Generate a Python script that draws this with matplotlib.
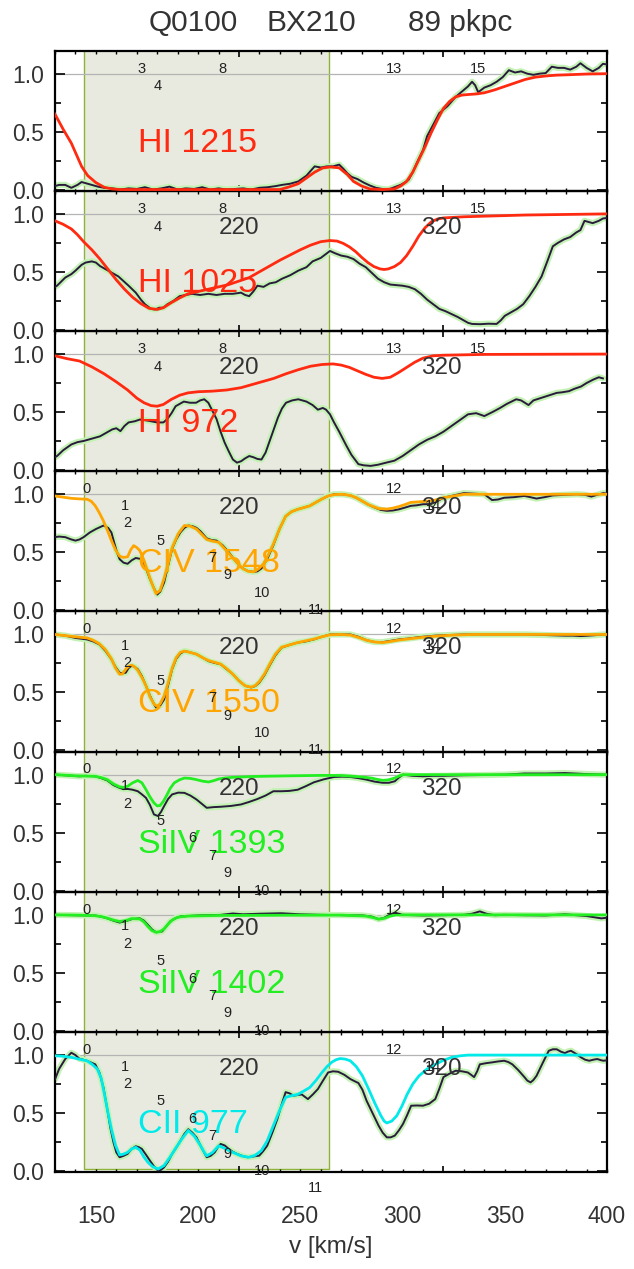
import matplotlib
matplotlib.use('Agg')
import matplotlib.pyplot as plt
from matplotlib.ticker import MultipleLocator, FixedLocator
import numpy as np

plt.rcParams['font.family'] = ['Liberation Sans', 'DejaVu Sans']

# ---------------- data (velocity km/s, normalized flux) ----------------
hi1215_obs = [(130,.03),(132,.04),(135,.04),(138,.015),(141,.04),(143,.065),(146,.05),(148,.04),(151,.025),(154,.015),(158,.01),(162,0),(166,.01),(170,.005),(174,.02),(178,0),(182,.01),(186,.025),(190,0),(194,.01),(198,.005),(202,.02),(206,0),(210,.01),(214,0),(218,.005),(222,.01),(226,0),(230,.015),(234,.02),(238,.03),(241,.04),(245,.05),(249,.07),(253,.12),(257,.2),(260,.19),(263,.2),(266,.2),(269,.215),(271,.18),(273,.14),(275,.11),(278,.09),(281,.06),(284,.035),(287,.015),(290,.005),(293,0),(296,.02),(299,.04),(301,.06),(303,.085),(305,.15),(307,.23),(310,.34),(312,.46),(315,.56),(318,.66),(320,.69),(322,.72),(324,.76),(326,.8),(328,.83),(330,.86),(332,.89),(334,.93),(335.5,.9),(337,.84),(338.5,.86),(340,.88),(343,.9),(346,.93),(349,.97),(352,1.03),(355,1.01),(358,1.02),(361,1.0),(364,.99),(367,1.0),(370,1.005),(373,1.06),(376,1.05),(379,1.05),(382,1.035),(385,1.06),(387,1.09),(390,1.05),(393,1.02),(396,1.05),(398,1.085),(400,1.08)]
hi1215_mod = [(130,.65),(134,.52),(138,.40),(141,.28),(143,.2),(146,.12),(150,.06),(154,.02),(158,.005),(162,0),(240,0),(244,.02),(249,.05),(253,.1),(257,.15),(261,.187),(265,.195),(269,.187),(273,.13),(276,.07),(280,.03),(284,.005),(290,0),(296,.005),(299,.03),(302,.07),(305,.15),(308,.26),(311,.37),(314,.49),(317,.6),(320,.70),(323,.76),(326,.80),(329,.815),(332,.82),(336,.825),(340,.835),(345,.86),(350,.89),(355,.92),(360,.95),(365,.97),(370,.98),(375,.987),(380,.99),(390,.997),(400,1.0)]

hi1025_obs = [(130,.37),(131,.38),(135,.45),(138,.48),(140,.51),(143,.56),(145,.58),(148,.59),(150,.58),(152,.55),(155,.52),(158,.49),(161,.46),(163.5,.42),(166,.38),(169.5,.32),(172,.26),(174,.22),(177,.18),(179,.175),(181,.19),(183,.19),(185,.22),(188,.25),(191,.29),(194,.30),(197,.31),(201,.30),(205,.31),(209,.30),(213,.31),(217,.31),(221,.32),(223,.30),(225,.29),(227,.33),(229,.38),(232,.37),(235,.40),(238,.41),(241,.44),(245,.47),(249,.51),(253,.54),(256,.59),(260,.62),(264.5,.68),(267,.66),(270,.64),(273,.63),(276,.61),(279,.57),(282,.54),(285,.49),(288,.44),(291,.41),(294,.39),(297,.385),(300,.38),(303,.37),(306,.35),(309,.31),(312,.26),(315,.22),(318,.18),(321,.16),(324,.135),(327,.11),(330,.08),(332,.06),(334,.05),(338,.048),(342,.052),(346,.05),(348,.08),(350,.12),(353,.15),(356,.18),(359,.22),(362,.29),(365,.37),(368,.46),(371,.6),(373.5,.72),(376,.75),(379,.78),(382,.8),(385,.84),(387,.86),(389,.94),(391,.93),(393,.92),(396,.94),(398,.96),(400,.965)]
hi1025_mod = [(130,.94),(134,.91),(138,.87),(141,.82),(144,.76),(148,.69),(152,.61),(156,.52),(160,.43),(164,.35),(168,.28),(172,.225),(176,.185),(180,.175),(183,.19),(187,.235),(191,.275),(195,.31),(200,.33),(205,.35),(210,.37),(215,.39),(220,.42),(225,.45),(230,.5),(235,.55),(240,.6),(245,.645),(250,.69),(255,.73),(260,.76),(264.5,.77),(268,.765),(271,.745),(274,.715),(277,.675),(280,.625),(283,.58),(286,.545),(289,.525),(291,.52),(293,.525),(296,.545),(299,.58),(302,.64),(305,.72),(308,.81),(311,.88),(314,.93),(317,.955),(320,.965),(330,.975),(340,.98),(360,.99),(380,.995),(400,1.0)]

hi972_obs = [(130,.11),(131,.12),(134,.17),(138,.22),(141,.24),(144,.25),(148,.27),(152,.29),(155,.32),(158,.35),(160,.36),(162,.335),(164,.38),(166,.41),(169,.42),(171.5,.435),(174,.43),(177,.42),(180,.41),(183,.41),(185,.44),(187,.49),(189,.55),(191,.57),(193,.59),(196,.58),(199,.58),(201,.6),(203,.61),(205,.58),(207,.51),(209,.44),(211,.33),(213,.235),(215,.16),(217,.09),(219,.063),(221,.075),(223,.1),(225,.12),(227,.11),(229,.095),(231,.09),(233,.15),(235,.25),(237,.35),(239,.45),(241,.53),(243,.58),(246,.6),(249,.61),(251,.6),(253,.59),(256,.56),(258.6,.52),(261,.535),(262.6,.52),(264.5,.48),(266.5,.41),(269,.33),(272.5,.21),(275,.13),(278.4,.05),(281,.04),(284.4,.035),(288,.045),(292,.063),(296,.08),(300,.12),(304,.17),(308,.22),(312,.26),(316,.29),(320,.33),(324,.38),(328,.43),(332,.48),(336,.49),(340,.465),(344,.5),(347.7,.535),(351,.57),(355.6,.61),(358,.6),(361.6,.56),(364,.6),(367.5,.62),(371,.64),(375.4,.665),(378,.67),(381.4,.68),(384,.7),(387.3,.72),(390,.75),(393.3,.78),(396,.8),(398,.79)]
hi972_mod = [(130,.985),(136,.96),(142,.94),(148,.89),(154,.83),(160,.76),(165.5,.69),(170,.62),(173.5,.58),(177,.555),(180,.55),(183,.565),(187,.61),(191,.645),(195,.665),(200,.675),(207,.68),(214,.69),(221,.71),(229,.75),(237,.79),(243,.83),(249,.865),(255,.895),(260.6,.91),(266,.915),(270,.905),(274,.885),(278,.855),(282,.825),(286,.8),(290,.79),(294,.8),(298,.84),(302,.885),(306,.93),(310,.965),(315,.985),(320,.99),(340,.997),(400,1.0)]

civ1548_obs = [(130,.63),(132,.635),(135,.63),(138,.61),(140,.60),(142,.61),(144,.63),(147,.67),(150,.70),(153.7,.73),(156,.71),(157.6,.67),(159,.58),(160.5,.49),(161.6,.44),(163.5,.41),(165.5,.40),(167.5,.43),(169.5,.45),(171,.445),(172.5,.44),(174.5,.36),(176.4,.27),(178.4,.19),(180,.134),(181.5,.16),(183.4,.24),(185.3,.38),(187.3,.53),(189.3,.61),(191.3,.67),(193.3,.71),(195.2,.73),(197.2,.725),(199.2,.71),(201.2,.68),(204.2,.62),(206.6,.605),(209,.60),(212,.56),(215,.50),(218,.43),(221,.37),(224,.34),(227,.33),(229,.335),(231,.36),(233.8,.44),(236.8,.56),(239.8,.7),(242.8,.81),(245.7,.85),(248.7,.87),(251.7,.885),(254.6,.90),(257.6,.93),(260.6,.96),(263.5,.985),(266.5,1.0),(270.5,1.0),(274.5,.99),(277.4,.97),(280.4,.94),(283.3,.91),(286.3,.886),(289.3,.865),(292.3,.857),(295.2,.86),(298.2,.87),(301.2,.885),(304,.9),(307,.905),(310,.914),(313,.915),(316,.93),(318,.95),(320,.97),(325,.99),(330,1.01),(335,1.005),(340,1.0),(343.8,.95),(346.7,.955),(349.7,.97),(354.6,.975),(359.6,.986),(362.5,.975),(365.5,.963),(369.5,.975),(373.5,.99),(379.4,.995),(385.3,1.0),(389.3,.995),(392.3,.98),(395.2,.995),(398.2,1.01),(400,1.005)]
civ1548_mod = [(130,.985),(134,.975),(138,.965),(142,.96),(145.7,.957),(147.7,.94),(149.7,.9),(151.7,.84),(153.7,.77),(155.6,.69),(157.6,.6),(159.6,.52),(161.6,.465),(163.5,.455),(165.5,.46),(167,.52),(168.5,.557),(170,.54),(171.5,.514),(173.5,.43),(175.4,.33),(177.4,.23),(179.4,.143),(181.4,.17),(183.3,.27),(185.3,.4),(187.3,.54),(190.3,.66),(193.3,.73),(196.2,.725),(199.2,.70),(201.7,.655),(204.2,.61),(207.2,.595),(210.1,.586),(213,.53),(216,.47),(219,.41),(222,.357),(224.5,.335),(227,.33),(229.5,.355),(232,.4),(234.4,.48),(236.8,.57),(239.8,.7),(242.8,.81),(245.7,.85),(248.7,.87),(251.7,.885),(254.6,.90),(257.6,.93),(260.6,.96),(263.5,.985),(266.5,.997),(270.5,1.0),(274.5,.99),(277.4,.97),(280.4,.94),(283.3,.91),(286.3,.89),(288.3,.877),(292.3,.872),(295.2,.88),(298.2,.894),(301,.91),(304,.93),(308,.935),(312,.94),(316,.95),(320,.97),(325,.985),(330,1.0),(400,1.0)]

civ1550_obs = [(130,1.0),(135,.99),(140,.97),(145.7,.957),(148.7,.94),(151.7,.914),(154.6,.86),(157.6,.786),(159.6,.72),(161.6,.67),(163,.665),(164.6,.67),(166,.71),(167.5,.73),(169,.72),(170.5,.70),(172.5,.64),(174.5,.557),(176.5,.47),(178.4,.40),(179.4,.37),(181.4,.385),(183.4,.44),(185.3,.56),(187.3,.70),(189.3,.79),(191.3,.835),(193.3,.857),(196.2,.845),(199.2,.83),(202.2,.80),(205.1,.77),(208,.755),(211,.743),(214,.70),(217,.657),(220,.60),(223,.557),(226,.543),(228,.555),(230,.586),(232.5,.65),(234.9,.73),(237.8,.82),(240.8,.886),(244.7,.91),(248.7,.93),(252.6,.94),(256.6,.957),(260.5,.98),(264.5,1.0),(269.5,1.0),(274.5,1.0),(278.4,.98),(282.4,.95),(286.3,.935),(290.3,.934),(294.2,.945),(298.2,.957),(303,.965),(308,.977),(316,.99),(330,1.0),(345,1.0),(360,1.0),(370,.995),(379.4,.99),(383.3,.99),(387.3,.986),(391,.99),(395,.995),(398.2,1.0),(400,1.0)]
civ1550_mod = [(130,1.0),(135,.99),(140,.98),(145.7,.97),(148.7,.95),(151.7,.92),(154.6,.87),(157.6,.79),(159.6,.71),(161.6,.657),(163,.66),(164.6,.70),(166,.725),(167.5,.735),(169,.72),(170.5,.69),(172.5,.63),(174.5,.557),(176.5,.46),(178.4,.40),(179.9,.38),(181.4,.40),(183.4,.47),(185.3,.58),(187.3,.71),(189.3,.80),(191.3,.845),(193.3,.857),(196.2,.845),(199.2,.83),(202.2,.80),(205.1,.775),(208,.76),(211,.745),(214,.705),(217,.657),(220,.60),(223,.557),(226,.545),(228,.56),(230,.595),(232.5,.66),(234.9,.74),(237.8,.83),(240.8,.89),(244.7,.91),(248.7,.93),(252.6,.945),(256.6,.96),(260.5,.98),(264.5,.997),(269.5,1.0),(274.5,.995),(278.4,.975),(282.4,.95),(286.3,.935),(290.3,.93),(294.2,.94),(298.2,.952),(303,.962),(308,.972),(316,.985),(325,.995),(335,1.0),(400,1.0)]

siiv1393_obs = [(130,1.0),(135,.995),(141.8,.986),(145,.99),(149.7,.986),(152.6,.97),(155.6,.95),(158.6,.91),(161.6,.886),(163.5,.875),(165.5,.877),(168,.87),(170.5,.857),(172.5,.83),(174.5,.80),(176.4,.74),(178.4,.657),(180.4,.643),(181.9,.68),(183.4,.73),(185.3,.79),(187.3,.83),(190.3,.845),(193.3,.843),(196.2,.82),(199.2,.786),(201.7,.75),(204.2,.714),(207.6,.72),(211,.723),(216,.73),(221,.743),(225,.765),(229,.79),(233,.82),(236.8,.857),(240.8,.857),(244.7,.86),(248.7,.87),(252.6,.9),(256.6,.934),(261.5,.96),(266.5,.98),(270.5,.983),(274.5,.98),(278.4,.97),(282.4,.957),(286.3,.94),(290.3,.93),(293.3,.93),(296.2,.943),(298.2,.975),(300.2,1.0),(305,.99),(310,.986),(315,.99),(320,.99),(330,.995),(340,.997),(350,1.0),(359.6,1.01),(370,1.01),(379.4,1.014),(390,1.005),(398,1.0),(400,1.0)]
siiv1393_mod = [(130,1.0),(140,.99),(149.7,.986),(152.6,.975),(155.6,.957),(158.6,.92),(161.6,.894),(163.5,.89),(165.5,.9),(168,.93),(170.5,.95),(172.5,.93),(174.5,.871),(176.4,.81),(178.4,.757),(180,.73),(181.4,.734),(183,.77),(184.4,.814),(186.3,.88),(188.3,.929),(190.8,.955),(193.3,.971),(196.2,.968),(199.2,.957),(202.2,.944),(205.1,.937),(207.6,.948),(210.1,.963),(213.5,.972),(217,.977),(225,.983),(231,.986),(245,.99),(260.6,.994),(270,.993),(280.4,.98),(285,.97),(288,.958),(290.3,.951),(293,.955),(296.2,.971),(298.5,.99),(300.2,1.0),(400,1.0)]

siiv1402_obs = [(130,1.0),(140,.997),(149.7,.994),(152.6,.985),(155.6,.97),(158.6,.95),(161.6,.934),(164.5,.945),(167.5,.963),(171.5,.97),(173.5,.95),(175.4,.914),(177.4,.875),(179.4,.85),(182.4,.857),(184.4,.9),(186.3,.943),(188.8,.97),(191.3,.986),(200,.995),(211,1.0),(217,1.012),(222,1.005),(230,1.01),(240.8,1.014),(250,1.005),(260.6,1.0),(270,.998),(280.4,.995),(285,.985),(288.3,.963),(291,.975),(293,.995),(296.2,1.02),(300,1.0),(310,.995),(320,.997),(330,1.0),(334,1.01),(337.8,1.03),(341,1.01),(345,.997),(349.7,1.0),(360,.997),(370,.995),(379.4,1.005),(390,.99),(397.2,.97),(400,.975)]
siiv1402_mod = [(130,1.0),(140,.998),(149.7,.993),(152.6,.985),(155.6,.972),(158.6,.955),(161.6,.943),(164.5,.95),(167.5,.968),(171.5,.965),(173.5,.94),(175.4,.9),(177.4,.865),(179.4,.85),(181.4,.855),(183.4,.88),(185.3,.92),(187.3,.955),(190,.98),(195,.99),(210,.995),(240,.997),(270,.998),(282,.99),(286,.975),(288.3,.963),(291,.97),(294,.99),(297,1.0),(400,1.0)]

cii977_obs = [(130,.79),(132,.88),(135,.966),(138,1.02),(140,1.0),(141.8,.97),(145.7,.95),(149.7,.92),(151.7,.85),(153.7,.72),(155.6,.53),(157.1,.37),(158.6,.247),(160,.16),(161.6,.118),(163.5,.13),(165.5,.147),(167.5,.19),(169.5,.213),(171,.205),(172.5,.19),(174.5,.14),(176.4,.09),(178.4,.04),(180.4,.003),(181.9,.01),(183.3,.03),(185.3,.08),(187.3,.147),(189.3,.2),(191.3,.26),(193.3,.32),(195.2,.36),(197.2,.33),(199.2,.29),(201.7,.2),(204.2,.118),(206.1,.13),(208.1,.16),(209.5,.2),(211,.233),(213,.22),(215,.19),(217,.165),(219,.147),(221.5,.13),(224,.118),(227,.125),(229.9,.132),(231.8,.17),(233.8,.218),(236.3,.33),(238.8,.45),(240.8,.57),(242.8,.68),(244.7,.67),(246.7,.65),(248.7,.655),(250.7,.66),(252.2,.64),(253.7,.62),(256.1,.66),(258.6,.707),(261.1,.78),(263.6,.85),(266,.86),(268.5,.856),(271.5,.83),(274.5,.793),(276.5,.775),(278.4,.759),(280.4,.7),(282.4,.606),(285.3,.5),(288.3,.39),(290.3,.33),(292.3,.29),(294.2,.29),(296.2,.305),(298.2,.35),(300.2,.405),(302.2,.48),(304.2,.563),(307,.565),(310,.563),(313,.58),(316,.62),(318,.71),(320,.81),(323,.84),(326,.865),(329,.86),(331.9,.85),(333.5,.83),(335,.81),(336.5,.86),(337.8,.92),(340.8,.93),(343.8,.937),(346.7,.945),(349.7,.951),(351.7,.94),(353.7,.92),(356.6,.87),(359.6,.81),(361,.78),(362.6,.764),(364,.785),(365.5,.82),(368.5,.93),(371.5,1.037),(373.5,1.05),(375.4,1.05),(377.4,1.03),(379.4,1.017),(380.9,1.03),(382.4,1.037),(384.9,1.01),(387.3,.98),(389.3,.96),(391.3,.951),(393.3,.96),(395.2,.966),(397.2,.955),(398.2,.951),(400,.955)]
cii977_mod = [(130,.994),(134,.99),(138,.98),(141.8,.965),(145.7,.95),(148.2,.92),(150.7,.88),(152.6,.8),(154.1,.67),(155.6,.53),(157.6,.36),(159.6,.22),(161.6,.138),(163.5,.145),(165.5,.16),(167.5,.19),(169.5,.204),(171.5,.18),(173.5,.12),(175.4,.075),(177.9,.035),(180.4,.017),(183.3,.046),(186.3,.12),(189.3,.204),(192.2,.28),(195.2,.35),(198.2,.3),(201.2,.218),(202.7,.17),(204.2,.13),(207.1,.16),(210.1,.218),(213.5,.19),(217,.16),(221,.13),(224.9,.118),(227.9,.135),(230.9,.175),(233.8,.26),(236.8,.39),(239.8,.52),(242.8,.635),(245.7,.65),(248.7,.66),(251.7,.69),(254.6,.72),(257.6,.78),(260.6,.85),(263,.9),(265.5,.94),(267.5,.96),(269.5,.97),(272,.965),(274.5,.95),(277.4,.9),(280.4,.82),(283.3,.71),(286.3,.59),(289.3,.48),(291,.43),(292.3,.414),(294.7,.43),(297.2,.477),(299.7,.56),(302.2,.66),(305,.75),(308,.82),(312,.88),(316,.92),(320,.955),(324,.98),(328,.993),(332,1.0),(400,1.0)]

line_names = ["HI 1215", "HI 1025", "HI 972", "CIV 1548", "CIV 1550", "SiIV 1393", "SiIV 1402", "CII 977"]

# component labels: (text, velocity, flux-level)
comp_hi = [("3",172.5,1.04),("4",180.4,0.89),("8",211.7,1.04),("13",296,1.04),("15",336.8,1.04)]
comp_civ = [("0",145.3,1.045),("1",164.2,0.9),("2",165.5,0.75),("5",181.8,0.6),("7",207,0.45),("9",214.5,0.3),("10",231.5,0.15),("11",257.6,0.0),("12",296,1.045),("14",315,0.9)]
comp_siiv = [("0",145.3,1.045),("1",164.2,0.9),("2",165.5,0.75),("5",181.8,0.6),("6",197.2,0.45),("7",207,0.3),("9",214.5,0.15),("10",231.5,0.0),("12",296,1.045)]
comp_cii = [("0",145.3,1.045),("1",164.2,0.9),("2",165.5,0.75),("5",181.8,0.6),("6",197.2,0.45),("7",207,0.3),("9",214.5,0.15),("10",231.5,0.0),("11",257.6,-0.15),("12",296,1.045),("14",315,0.9)]
big_marks = [("220",220,0.88),("320",319,0.88)]

x_ticklabels = [150, 200, 250, 300, 350, 400]
shade_range = (144, 264)

# ---------------- styling ----------------
RED, ORANGE, GREEN, CYAN = '#ff2a10', '#ffa500', '#22ee22', '#00eaea'
OBS = '#2a1b3d'
HALO = '#c4f2b4'
SHADE = '#e8eadf'
SHADE_EDGE = '#8db33a'
TXT = '#333333'

panels = [
    (hi1215_obs, hi1215_mod, RED, comp_hi, False),
    (hi1025_obs, hi1025_mod, RED, comp_hi, True),
    (hi972_obs, hi972_mod, RED, comp_hi, True),
    (civ1548_obs, civ1548_mod, ORANGE, comp_civ, True),
    (civ1550_obs, civ1550_mod, ORANGE, comp_civ, True),
    (siiv1393_obs, siiv1393_mod, GREEN, comp_siiv, True),
    (siiv1402_obs, siiv1402_mod, GREEN, comp_siiv, True),
    (cii977_obs, cii977_mod, CYAN, comp_cii, True),
]

W_PX, H_PX = 634, 1269
fig = plt.figure(figsize=(W_PX/100, H_PX/100), dpi=100)
left = 55/W_PX
width = 552/W_PX
top = 50.5/H_PX
ph = 140.2/H_PX
YLO, YHI = -0.01, 1.2

axes = []
for i, (obs, mod, col, comps, big) in enumerate(panels):
    ax = fig.add_axes([left, 1 - top - (i+1)*ph, width, ph])
    ax.set_zorder(20 - i)
    ax.patch.set_alpha(0)
    ax.set_xlim(130, 400)
    ax.set_ylim(YLO, YHI)
    last = (i == len(panels) - 1)
    s0, s1 = shade_range
    if last:
        ax.fill_between([s0, s1], 0.02, YHI, color=SHADE, zorder=0, lw=0)
        ax.plot([s0, s0, s1, s1], [YHI, 0.02, 0.02, YHI], color=SHADE_EDGE, lw=1, zorder=0.5)
    else:
        ax.axvspan(s0, s1, color=SHADE, zorder=0, lw=0)
        ax.axvline(s0, color=SHADE_EDGE, lw=1, zorder=0.5)
        ax.axvline(s1, color=SHADE_EDGE, lw=1, zorder=0.5)
    ax.axhline(1.0, color='#b4b4b4', lw=0.9, zorder=1)
    o = np.array(obs); m = np.array(mod)
    ax.plot(o[:, 0], o[:, 1], color=HALO, lw=4.5, zorder=2, solid_capstyle='round')
    ax.plot(o[:, 0], o[:, 1], color=OBS, lw=1.4, zorder=3)
    ax.plot(m[:, 0], m[:, 1], color=col, lw=2.0, zorder=4)
    ax.text(170.5, 0.40, line_names[i], color=col, fontsize=24.5, ha='left', va='center', zorder=6)
    for t, vx, vy in comps:
        ax.text(vx, vy, t, fontsize=10.5, color='#222222', ha='center', va='center', zorder=7, clip_on=False)
    if big:
        for t, vx, vy in big_marks:
            ax.text(vx, vy, t, fontsize=17.5, color=TXT, ha='center', va='center', zorder=5)

    # ticks
    ax.xaxis.set_major_locator(FixedLocator([120, 220, 320]))
    ax.xaxis.set_minor_locator(MultipleLocator(10))
    ax.yaxis.set_major_locator(FixedLocator([0.0, 0.5, 1.0]))
    ax.yaxis.set_minor_locator(FixedLocator([0.25, 0.75]))
    ax.tick_params(which='both', direction='in', top=True, right=True, colors='black', width=1.2)
    ax.tick_params(axis='x', which='major', length=4)
    ax.tick_params(axis='x', which='minor', length=2.2, width=1.0)
    ax.tick_params(axis='y', which='major', length=7)
    ax.tick_params(axis='y', which='minor', length=4)
    ax.tick_params(axis='x', labelbottom=False)
    ax.tick_params(axis='y', labelsize=16.5, labelcolor=TXT, pad=8)
    ax.set_yticklabels(['0.0', '0.5', '1.0'])
    for sp in ax.spines.values():
        sp.set_linewidth(1.6)
    axes.append(ax)

# bottom velocity labels
sec = axes[-1].secondary_xaxis('bottom')
sec.set_xticks(x_ticklabels)
sec.set_xticklabels([str(v) for v in x_ticklabels])
sec.tick_params(length=0, pad=24, labelsize=16.5, labelcolor=TXT)
sec.spines['bottom'].set_visible(False)

fig.text(0.522, 1 - 1247/H_PX, 'v [km/s]', fontsize=17.5, color=TXT, ha='center', va='center')

# title
fig.text(193/W_PX, 1 - 23/H_PX, 'Q0100', fontsize=21.5, color=TXT, ha='center', va='center')
fig.text(311.4/W_PX, 1 - 23/H_PX, 'BX210', fontsize=21.5, color=TXT, ha='center', va='center')
fig.text(460/W_PX, 1 - 23/H_PX, '89 pkpc', fontsize=21.5, color=TXT, ha='center', va='center')

fig.savefig('out.png', dpi=100, facecolor='white')
